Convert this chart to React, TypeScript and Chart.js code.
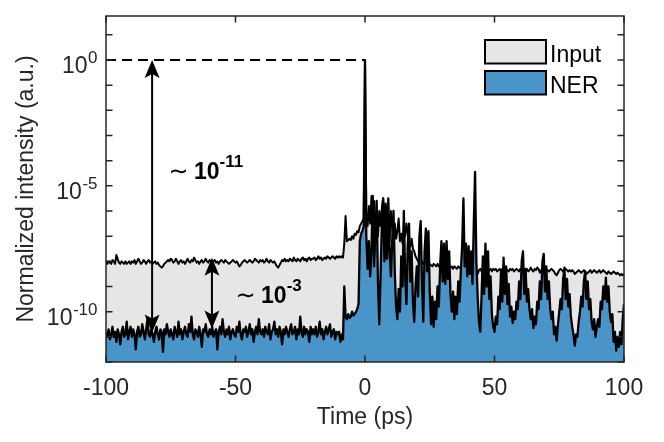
import React, { useEffect, useRef } from 'react';
import { Chart, registerables } from 'chart.js';

Chart.register(...registerables);

const FONT = '"Liberation Sans", Arial, Helvetica, sans-serif';

// time grid (ps), 0.5 ps spacing from -100 to 100
const timePs: number[] = Array.from({ length: 401 }, (_, i) => -100 + i * 0.5);

// log10 of normalized intensity
const inputLog10: number[] = [
  -8.0,-8.1,-8.0,-8.05,-8.1,-7.95,-8.0,-8.1,-7.75,-7.9,-8.05,-8.1,-8.0,-8.05,-8.1,-8.0,-8.1,-8.05,-8.0,-8.1,
  -8.0,-8.05,-7.95,-8.1,-8.0,-7.9,-8.0,-8.1,-8.05,-7.95,-8.0,-8.1,-8.0,-7.95,-8.05,-8.0,-8.1,-8.05,-8.0,-8.1,
  -8.05,-8.15,-8.2,-8.25,-8.2,-8.1,-8.05,-8.0,-7.95,-8.0,-7.9,-7.95,-8.05,-8.0,-7.9,-8.0,-8.1,-8.0,-7.95,-8.05,
  -8.0,-8.1,-8.0,-7.9,-8.0,-8.05,-7.95,-8.0,-7.85,-7.95,-8.05,-8.0,-8.1,-8.0,-7.95,-8.05,-8.0,-7.9,-8.0,-8.05,
  -7.95,-8.0,-8.05,-8.0,-7.95,-8.05,-8.0,-8.1,-8.0,-7.95,-8.0,-8.05,-7.95,-8.0,-8.05,-8.1,-8.05,-8.0,-7.95,-8.0,
  -8.05,-8.0,-8.1,-8.2,-8.15,-8.05,-8.0,-7.95,-8.0,-8.05,-8.0,-7.95,-8.0,-8.05,-8.0,-7.9,-7.95,-8.0,-8.05,-7.95,
  -8.0,-7.95,-8.05,-8.0,-7.9,-8.0,-8.05,-7.95,-8.0,-8.05,-8.0,-8.1,-8.2,-8.25,-8.15,-8.05,-7.95,-8.0,-7.9,-8.0,
  -7.95,-8.0,-7.9,-7.95,-8.0,-7.85,-7.95,-8.0,-7.9,-7.95,-8.0,-7.9,-7.85,-7.95,-7.9,-8.0,-7.9,-7.85,-7.95,-7.9,
  -7.9,-7.85,-7.95,-7.9,-7.8,-7.9,-7.85,-7.95,-7.9,-7.85,-7.9,-7.8,-7.85,-7.9,-7.85,-7.8,-7.85,-7.9,-7.8,-7.85,
  -7.8,-7.85,-7.8,-7.85,-7.3,-6.2,-7.2,-7.15,-7.1,-7.15,-7.0,-7.1,-6.9,-6.95,-6.8,-6.85,-6.6,-6.5,-6.4,-6.3,
  0,-6.2,-6.6,-5.8,-6.5,-5.4,-6.8,-5.6,-6.9,-6.2,-7.0,-6.0,-6.6,-5.9,-5.5,-6.3,-5.7,-6.9,-6.1,-7.2,
  -6.0,-6.6,-7.3,-6.5,-7.1,-6.8,-6.3,-7.2,-6.9,-7.3,-6.6,-7.0,-6.5,-6.9,-7.2,-7.4,-7.1,-7.5,-7.6,-7.8,
  -7.9,-8.0,-7.95,-8.1,-8.0,-8.1,-8.05,-8.15,-8.1,-8.2,-8.1,-8.15,-8.2,-8.1,-8.15,-8.2,-8.1,-8.2,-8.25,-8.2,
  -8.2,-8.15,-8.25,-8.2,-8.15,-8.2,-8.25,-8.2,-8.3,-8.2,-8.25,-8.3,-8.2,-8.25,-8.3,-8.25,-8.2,-8.3,-8.25,-8.3,
  -8.3,-8.25,-8.3,-8.35,-8.3,-8.4,-8.45,-8.5,-8.35,-8.3,-8.4,-8.3,-8.25,-8.35,-8.3,-8.4,-8.35,-8.3,-8.4,-8.3,
  -8.35,-8.3,-8.4,-8.35,-8.3,-8.4,-8.3,-8.35,-8.4,-8.3,-8.35,-8.4,-8.3,-8.35,-8.3,-8.4,-8.35,-8.3,-8.35,-8.4,
  -8.3,-8.35,-8.4,-8.45,-8.35,-8.3,-8.4,-8.35,-8.25,-8.35,-8.4,-8.3,-8.35,-8.25,-8.3,-8.45,-8.35,-8.3,-8.4,-8.35,
  -8.3,-8.35,-8.4,-8.35,-8.3,-8.35,-8.4,-8.5,-8.55,-8.45,-8.35,-8.3,-8.35,-8.4,-8.35,-8.3,-8.35,-8.4,-8.35,-8.4,
  -8.35,-8.4,-8.5,-8.45,-8.4,-8.35,-8.4,-8.45,-8.4,-8.35,-8.4,-8.5,-8.45,-8.4,-8.35,-8.45,-8.4,-8.35,-8.4,-8.45,
  -8.4,-8.35,-8.45,-8.4,-8.35,-8.4,-8.45,-8.5,-8.4,-8.45,-8.5,-8.45,-8.4,-8.45,-8.5,-8.45,-8.5,-8.55,-8.5,-8.55,
  -8.5,
];

const nerLog10: number[] = [
  -10.8,-11.0,-10.7,-11.1,-10.9,-10.6,-11.0,-10.8,-11.2,-10.7,-10.9,-11.3,-10.8,-10.6,-11.0,-10.9,-10.4,-11.1,-10.8,-10.6,
  -11.0,-10.7,-10.9,-11.5,-10.8,-10.6,-11.0,-10.9,-10.5,-10.8,-11.1,-10.7,-10.3,-10.9,-11.0,-10.7,-10.9,-11.2,-10.8,-10.6,
  -10.9,-11.1,-10.7,-10.8,-11.6,-10.7,-10.9,-10.5,-10.8,-11.0,-10.7,-10.9,-11.1,-10.6,-10.8,-11.0,-10.4,-10.9,-10.7,-11.1,
  -10.8,-10.6,-10.9,-11.0,-10.5,-10.8,-10.2,-10.9,-11.1,-10.7,-10.8,-11.0,-10.6,-10.9,-11.4,-10.7,-10.8,-10.5,-10.9,-11.0,
  -10.7,-10.9,-10.6,-11.0,-10.8,-10.7,-11.5,-10.8,-10.6,-10.9,-10.3,-10.8,-11.0,-10.7,-10.9,-10.6,-11.1,-10.8,-10.7,-10.9,
  -11.0,-10.6,-10.8,-10.4,-10.9,-11.1,-10.7,-10.8,-10.6,-11.0,-10.8,-10.5,-10.9,-10.7,-11.2,-10.8,-10.6,-10.9,-10.3,-10.8,
  -10.9,-10.7,-11.0,-10.6,-10.8,-10.9,-10.5,-11.1,-10.8,-10.7,-10.4,-10.9,-10.7,-11.0,-10.6,-10.8,-11.3,-10.7,-10.9,-10.6,
  -10.8,-11.0,-10.7,-10.5,-10.9,-10.8,-10.6,-11.1,-10.7,-10.9,-10.2,-10.8,-11.0,-10.6,-10.9,-10.7,-10.8,-11.2,-10.6,-10.9,
  -10.7,-10.9,-10.6,-11.0,-10.8,-10.4,-10.9,-10.7,-11.1,-10.8,-10.6,-10.9,-10.7,-10.5,-11.0,-10.8,-10.7,-11.1,-10.8,-10.9,
  -10.8,-11.2,-10.9,-11.1,-9.0,-10.2,-10.3,-10.1,-10.25,-10.2,-10.0,-10.15,-10.1,-10.0,-9.9,-9.7,-7.2,-6.9,-6.8,-6.6,
  0,-7.0,-8.3,-7.2,-8.6,-7.6,-5.4,-8.2,-6.9,-5.6,-8.8,-10.5,-8.6,-6.6,-5.5,-8.0,-5.8,-7.9,-5.5,-7.6,
  -8.6,-7.2,-6.0,-8.4,-9.8,-10.3,-9.1,-10.0,-7.8,-9.0,-6.0,-8.6,-9.7,-7.4,-6.5,-8.8,-7.6,-9.6,-10.4,-9.0,
  -8.2,-9.4,-7.0,-6.4,-8.8,-10.4,-7.6,-6.7,-8.4,-6.8,-9.2,-10.5,-9.4,-10.6,-9.6,-10.3,-9.0,-9.8,-8.2,-7.2,
  -8.8,-7.3,-8.9,-7.2,-8.7,-7.6,-9.3,-10.0,-9.2,-10.3,-9.4,-10.1,-8.8,-9.6,-8.4,-7.4,-5.5,-8.2,-7.3,-8.6,
  -7.4,-8.5,-7.6,-8.9,-6.5,-4.45,-8.0,-9.4,-10.4,-10.8,-9.4,-7.8,-9.3,-7.3,-9.0,-7.6,-9.5,-8.6,-10.1,-10.6,
  -10.8,-10.2,-10.5,-9.4,-9.9,-8.4,-9.6,-7.85,-9.3,-8.2,-9.7,-8.9,-10.2,-9.8,-10.45,-10.0,-10.3,-9.6,-9.9,-8.8,
  -9.5,-8.0,-7.6,-9.3,-8.3,-9.6,-9.1,-9.9,-10.3,-9.9,-10.65,-10.2,-10.5,-9.6,-9.9,-8.8,-9.5,-8.0,-7.7,-9.2,
  -8.2,-9.5,-8.8,-9.9,-10.3,-10.0,-10.9,-10.6,-11.15,-10.5,-10.0,-9.5,-9.9,-8.7,-8.25,-9.5,-8.7,-9.8,-9.3,-10.2,
  -10.6,-10.9,-11.35,-10.9,-11.0,-10.4,-10.0,-9.4,-9.8,-8.8,-8.4,-9.5,-8.8,-9.9,-9.5,-10.4,-10.7,-10.3,-11.0,-10.6,
  -10.3,-10.6,-9.6,-9.9,-9.0,-9.5,-8.65,-9.6,-9.0,-10.0,-10.4,-10.1,-11.2,-10.8,-11.55,-11.0,-11.4,-10.8,-11.3,-10.3,
  -9.7,
];

// dashed reference level (peak = 1)
const refTimes: number[] = [-100, 0];
const refLog10: number[] = [0, 0];

const seriesNames: string[] = ['Input', 'NER'];
const xTicks: number[] = [-100, -50, 0, 50, 100];
const yDecades: number[] = [-12, -11, -10, -9, -8, -7, -6, -5, -4, -3, -2, -1, 0, 1];
const yLabeledDecades: number[] = [-10, -5, 0];

// double arrows (time, top log10, bottom log10) and their ratio labels
const arrowTimes: number[] = [-82.2, -59.1];
const arrowTopLog10: number[] = [0, -7.86];
const arrowBottomLog10: number[] = [-10.83, -10.67];
const ratioExponents: string[] = ['-11', '-3'];
const ratioLabelTimes: number[] = [-75.3, -49.4];
const ratioLabelLog10: number[] = [-4.72, -9.64];

const toPoints = (ts: number[], vs: number[]) => ts.map((t, i) => ({ x: t, y: Math.pow(10, vs[i]) }));

function arrowHead(ctx: CanvasRenderingContext2D, x: number, tipY: number, dir: number) {
  // dir = -1 -> pointing up, +1 -> pointing down
  const L = 18, W = 7.5, notch = 4;
  ctx.beginPath();
  ctx.moveTo(x, tipY);
  ctx.lineTo(x - W, tipY - dir * L);
  ctx.lineTo(x, tipY - dir * (L - notch));
  ctx.lineTo(x + W, tipY - dir * L);
  ctx.closePath();
  ctx.fill();
}

const decorPlugin = {
  id: 'matlabDecor',
  afterDatasetsDraw(chart: any) {
    const { ctx, chartArea: a, scales } = chart;
    const xs = scales.x;
    const ys = scales.y;
    ctx.save();

    // arrows
    ctx.fillStyle = '#000';
    ctx.strokeStyle = '#000';
    ctx.lineWidth = 2;
    arrowTimes.forEach((t, i) => {
      const px = xs.getPixelForValue(t);
      const y1 = ys.getPixelForValue(Math.pow(10, arrowTopLog10[i]));
      const y2 = ys.getPixelForValue(Math.pow(10, arrowBottomLog10[i]));
      ctx.beginPath();
      ctx.moveTo(px, y1 + 10);
      ctx.lineTo(px, y2 - 10);
      ctx.stroke();
      arrowHead(ctx, px, y1, -1);
      arrowHead(ctx, px, y2, 1);
    });

    // ratio labels
    ratioExponents.forEach((ex, i) => {
      const px = xs.getPixelForValue(ratioLabelTimes[i]);
      const base = ys.getPixelForValue(Math.pow(10, ratioLabelLog10[i]));
      ctx.fillStyle = '#000';
      ctx.textAlign = 'left';
      ctx.textBaseline = 'alphabetic';
      ctx.font = '24px "DejaVu Sans", sans-serif';
      ctx.fillText('\u223C', px - 1.5, base);
      ctx.font = 'bold 23px ' + FONT;
      const tx = px + 24;
      ctx.fillText('10', tx, base);
      const w = ctx.measureText('10').width;
      ctx.font = 'bold 17px ' + FONT;
      ctx.fillText(ex, tx + w, base - 12);
    });

    // axes box
    ctx.strokeStyle = '#262626';
    ctx.lineWidth = 1.5;
    ctx.strokeRect(a.left, a.top, a.right - a.left, a.bottom - a.top);

    const tickLen = 6.5;
    ctx.fillStyle = '#262626';
    ctx.textBaseline = 'alphabetic';
    // x ticks and labels
    xs.ticks.forEach((tk: any) => {
      const px = xs.getPixelForValue(tk.value);
      ctx.beginPath();
      ctx.moveTo(px, a.bottom);
      ctx.lineTo(px, a.bottom - tickLen);
      ctx.moveTo(px, a.top);
      ctx.lineTo(px, a.top + tickLen);
      ctx.stroke();
      ctx.font = '23px ' + FONT;
      ctx.textAlign = 'center';
      ctx.fillText(String(tk.value), px, a.bottom + 33);
    });

    // y ticks and labels
    ys.ticks.forEach((tk: any) => {
      const py = ys.getPixelForValue(tk.value);
      ctx.beginPath();
      ctx.moveTo(a.left, py);
      ctx.lineTo(a.left + tickLen, py);
      ctx.moveTo(a.right, py);
      ctx.lineTo(a.right - tickLen, py);
      ctx.stroke();
      const e = Math.round(Math.log10(tk.value));
      if (yLabeledDecades.includes(e)) {
        const right = a.left - 8.5;
        ctx.textAlign = 'right';
        ctx.font = '17px ' + FONT;
        const es = String(e);
        ctx.fillText(es, right, py + 3);
        const ew = ctx.measureText(es).width;
        ctx.font = '23px ' + FONT;
        ctx.fillText('10', right - ew - 0.5, py + 13);
      }
    });

    // axis titles
    ctx.font = '23px ' + FONT;
    ctx.textAlign = 'center';
    ctx.fillText('Time (ps)', (a.left + a.right) / 2, 424);
    ctx.save();
    ctx.translate(32.5, (a.top + a.bottom) / 2);
    ctx.rotate(-Math.PI / 2);
    ctx.fillText('Normalized intensity (a.u.)', 0, 0);
    ctx.restore();

    // legend (in seriesNames order)
    const boxX = 485, boxW = 61, boxH = 23.5;
    const tops = [40, 71];
    seriesNames.forEach((name, i) => {
      const d = chart.data.datasets.find((ds: any) => ds.label === name);
      if (!d) return;
      const top = tops[i];
      ctx.fillStyle = d.backgroundColor;
      ctx.fillRect(boxX, top, boxW, boxH);
      ctx.strokeStyle = '#000';
      ctx.lineWidth = 2;
      ctx.strokeRect(boxX, top, boxW, boxH);
      ctx.fillStyle = '#000';
      ctx.textAlign = 'left';
      ctx.font = '23px ' + FONT;
      ctx.fillText(d.label, boxX + boxW + 4, top + 22);
    });

    ctx.restore();
  },
};

export default function App() {
  const ref = useRef<HTMLCanvasElement>(null);

  useEffect(() => {
    if (!ref.current) return;
    const chart = new Chart(ref.current, {
      type: 'line',
      data: {
        datasets: [
          {
            label: 'ref',
            data: toPoints(refTimes, refLog10),
            borderColor: '#000',
            borderWidth: 2,
            borderDash: [10, 6],
            pointRadius: 0,
            fill: false,
            order: 0,
          },
          {
            label: seriesNames[1],
            data: toPoints(timePs, nerLog10),
            borderColor: '#000',
            backgroundColor: '#4995ca',
            borderWidth: 2.3,
            borderJoinStyle: 'round',
            pointRadius: 0,
            fill: 'start',
            order: 1,
          },
          {
            label: seriesNames[0],
            data: toPoints(timePs, inputLog10),
            borderColor: '#000',
            backgroundColor: '#e6e6e6',
            borderWidth: 2,
            borderJoinStyle: 'round',
            pointRadius: 0,
            fill: 'start',
            order: 2,
          },
        ],
      },
      options: {
        animation: false,
        responsive: false,
        layout: { padding: { top: 16, right: 40, left: 0, bottom: 0 } },
        plugins: { legend: { display: false }, tooltip: { enabled: false } },
        elements: { line: { tension: 0 } },
        scales: {
          x: {
            type: 'linear',
            min: -100,
            max: 100,
            ticks: { display: false },
            grid: { display: false, drawTicks: false },
            border: { display: false },
            afterBuildTicks: (s: any) => {
              s.ticks = xTicks.map((v) => ({ value: v }));
            },
            afterFit: (s: any) => {
              s.height = 80;
            },
          },
          y: {
            type: 'logarithmic',
            min: 1e-12,
            max: Math.pow(10, 1.75),
            ticks: { display: false },
            grid: { display: false, drawTicks: false },
            border: { display: false },
            afterBuildTicks: (s: any) => {
              s.ticks = yDecades.map((e) => ({ value: Math.pow(10, e) }));
            },
            afterFit: (s: any) => {
              s.width = 106;
            },
          },
        },
      } as any,
      plugins: [decorPlugin],
    });
    return () => chart.destroy();
  }, []);

  return (
    <div style={{ position: 'absolute', left: 0, top: 0, width: 664, height: 442, background: '#fff' }}>
      <canvas ref={ref} width={664} height={442} style={{ display: 'block', width: 664, height: 442 }} />
    </div>
  );
}
